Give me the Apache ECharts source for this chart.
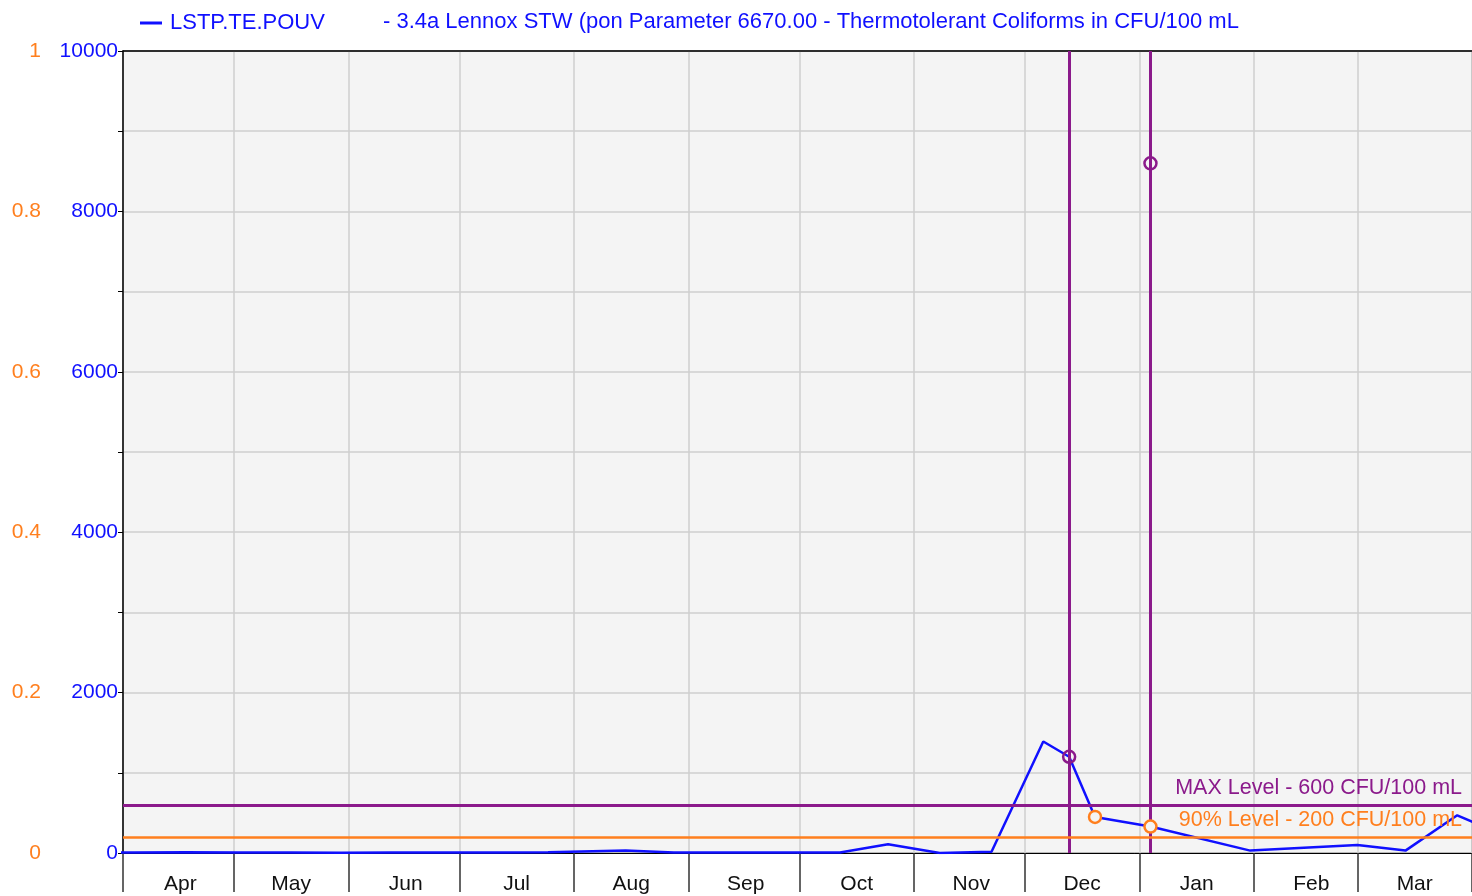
<!DOCTYPE html>
<html>
<head>
<meta charset="utf-8">
<title>LSTP.TE.POUV</title>
<script src="https://cdn.jsdelivr.net/npm/echarts@6/dist/echarts.min.js"></script>
<style>
	html, body { margin: 0; padding: 0; background: #fff; }
	#chart { width: 1472px; height: 896px; }
</style>
</head>
<body>
<div id="chart"></div>
<script>
// sample dates and results (CFU/100 mL)
var sampleDates = [
	'2018-03-28', '2018-04-04', '2018-04-18', '2018-05-02', '2018-05-16', '2018-05-30',
	'2018-06-13', '2018-06-27', '2018-07-11', '2018-07-25', '2018-08-15', '2018-08-28',
	'2018-09-12', '2018-09-26', '2018-10-12', '2018-10-25', '2018-11-08', '2018-11-22',
	'2018-12-06', '2018-12-13', '2018-12-20', '2019-01-04', '2019-01-31', '2019-03-01',
	'2019-03-14', '2019-03-28', '2019-04-02'
];
var sampleValues = [
	5, 5, 8, 5, 6, 4,
	5, 6, 5, 8, 30, 5,
	6, 5, 5, 110, 0, 16,
	1390, 1200, 450, 330, 30, 100,
	30, 470, 370
];
// results above the MAX level
var maxHitDates = ['2018-12-13', '2019-01-04'];
var maxHitValues = [1200, 8600];
// results above the 90% level
var p90HitDates = ['2018-12-20', '2019-01-04'];
var p90HitValues = [450, 330];

var maxLevel = 600;
var p90Level = 200;
var seriesName = 'LSTP.TE.POUV';
var titleText = '- 3.4a Lennox STW (pon Parameter 6670.00 - Thermotolerant Coliforms in CFU/100 mL';

var BLUE = '#1010ff', PURPLE = '#8b1a8b', ORANGE = '#ff7f1e';
var FONT = 'Liberation Sans, Arial, sans-serif';
var DAY = 86400000;

function pairs(xs, ys){
	var out = [];
	for(var i = 0; i < xs.length; i++){
		out.push([xs[i], ys[i]]);
	}
	return out;
}

var myChart = echarts.init(document.getElementById('chart'));
var halfMonth = 15.5 * DAY;
var xMin = +new Date('2018-04-01T00:00:00'), xMax = +new Date('2019-04-01T00:00:00');

var option = {
	animation: false,
	textStyle: { fontFamily: FONT },
	title: {
		text: titleText,
		left: 378, top: 6,
		textStyle: { color: BLUE, fontSize: 22, fontWeight: 'normal', fontFamily: FONT }
	},
	legend: {
		left: 135, top: 7,
		data: [{ name: seriesName, icon: 'rect' }],
		itemWidth: 22, itemHeight: 3,
		textStyle: { color: BLUE, fontSize: 22, fontFamily: FONT, padding: [0, 0, 0, 3] }
	},
	grid: {
		left: 123, top: 51, right: -1, bottom: 43,
		show: true, backgroundColor: '#f4f4f4', borderColor: '#000', borderWidth: 1
	},
	xAxis: [{
		type: 'time',
		min: xMin, max: xMax,
		splitNumber: 12, minInterval: 28 * DAY, maxInterval: 31 * DAY,
		axisLine: { lineStyle: { color: '#000', width: 1 } },
		axisTick: { show: true, length: 39, lineStyle: { color: '#333', width: 1.5 } },
		axisLabel: { show: false },
		splitLine: { show: true, lineStyle: { color: '#cfcfcf', width: 1.5 } }
	}, {
		// label-only axis shifted half a month so names sit mid-month
		type: 'time',
		position: 'bottom',
		min: xMin - halfMonth, max: xMax - halfMonth,
		splitNumber: 12, minInterval: 28 * DAY, maxInterval: 31 * DAY,
		axisLine: { show: false },
		axisTick: { show: false },
		splitLine: { show: false },
		axisLabel: {
			formatter: '{MMM}', color: '#111', fontSize: 21, margin: 21,
			showMinLabel: false, showMaxLabel: false, hideOverlap: false
		}
	}, {
		// top border of the plot
		type: 'time',
		position: 'top',
		min: xMin, max: xMax,
		axisLine: { show: true, lineStyle: { color: '#000', width: 1.5 } },
		axisTick: { show: false },
		axisLabel: { show: false },
		splitLine: { show: false }
	}],
	yAxis: [{
		type: 'value',
		min: 0, max: 10000, interval: 1000,
		axisLine: { show: true, lineStyle: { color: '#000', width: 1.5 } },
		axisTick: { show: true, length: 5, lineStyle: { color: '#000' } },
		axisLabel: {
			color: BLUE, fontSize: 21, margin: 5,
			formatter: function(v){ return v % 2000 === 0 ? String(v) : ''; }
		},
		splitLine: { show: true, lineStyle: { color: '#cfcfcf', width: 1.5 } }
	}, {
		type: 'value',
		position: 'left', offset: 74,
		min: 0, max: 1, interval: 0.2,
		axisLine: { show: false },
		axisTick: { show: false },
		splitLine: { show: false },
		axisLabel: {
			color: ORANGE, fontSize: 21, margin: 8,
			formatter: function(v){ return String(+v.toFixed(1)); }
		}
	}],
	series: [{
		name: seriesName,
		type: 'line',
		data: pairs(sampleDates, sampleValues),
		showSymbol: false,
		lineStyle: { color: BLUE, width: 2.5 },
		itemStyle: { color: BLUE },
		z: 3
	}, {
		name: 'MAX',
		type: 'scatter',
		data: pairs(maxHitDates, maxHitValues),
		symbol: 'circle', symbolSize: 12,
		itemStyle: { color: 'rgba(0,0,0,0)', borderColor: PURPLE, borderWidth: 2.5, opacity: 1 },
		z: 5,
		markLine: {
			silent: true, symbol: 'none',
			lineStyle: { color: PURPLE, width: 3, type: 'solid' },
			data: [
				{ xAxis: maxHitDates[0], label: { show: false } },
				{ xAxis: maxHitDates[1], label: { show: false } },
				{
					yAxis: maxLevel,
					label: {
						show: true, position: 'insideEndTop', distance: [10, 6],
						formatter: 'MAX Level - 600 CFU/100 mL',
						color: PURPLE, fontSize: 21.5, fontFamily: FONT
					}
				}
			]
		}
	}, {
		name: '90%',
		type: 'scatter',
		data: pairs(p90HitDates, p90HitValues),
		symbol: 'circle', symbolSize: 12,
		itemStyle: { color: '#f4f4f4', borderColor: ORANGE, borderWidth: 2.5, opacity: 1 },
		z: 6,
		markLine: {
			silent: true, symbol: 'none',
			lineStyle: { color: ORANGE, width: 2.5, type: 'solid' },
			data: [{
				yAxis: p90Level,
				label: {
					show: true, position: 'insideEndTop', distance: [10, 6],
					formatter: '90% Level - 200 CFU/100 mL',
					color: ORANGE, fontSize: 21.5, fontFamily: FONT
				}
			}]
		}
	}]
};
myChart.setOption(option);
</script>
</body>
</html>
